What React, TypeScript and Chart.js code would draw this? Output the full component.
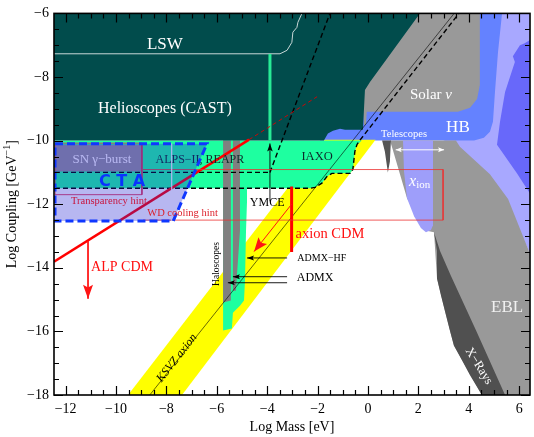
import React, { useEffect, useRef } from "react";
import { Chart, registerables } from "chart.js";

Chart.register(...registerables);

type P = [number, number];

// ---------- axes ----------
const xMin = -12.46;
const xMax = 6.43;
const yMin = -18;
const yMax = -6;
const labelStep = 2;

// ---------- filled regions (log mass [eV], log coupling [GeV^-1]) ----------
const lavenderRegion: P[] = [[4.05, -6], [6.43, -6], [6.43, -13.56], [5.63, -12.13], [4.7, -11.1], [3.3, -10.05], [3.0, -10.0], [4.05, -7.53]];
const mediumPurpleRegion: P[] = [[6.03, -7.0], [6.2, -6.95], [6.43, -6.84], [6.43, -11.66], [5.91, -11.03], [5.12, -10.13], [5.24, -9.41], [5.44, -8.47], [5.83, -7.53], [5.75, -7.35]];
const hbRegion: P[] = [[-1.9, -10.0], [4.21, -10.0], [4.6, -9.91], [4.84, -9.72], [4.96, -9.41], [5.04, -8.47], [5.16, -7.22], [5.32, -6], [-1.9, -6]];
const solarRegion: P[] = [[-0.32, -6], [4.44, -6], [4.44, -8.25], [4.33, -8.69], [4.05, -8.97], [3.57, -9.09], [-0.32, -9.09]];
const solarSpike: P[] = [[-0.2, -9.0], [-0.04, -9.0], [-0.08, -9.5], [-0.16, -9.5]];
const ksvzBand: P[] = [[-9.52, -18], [-7.38, -18], [0.3, -9.97], [-1.71, -9.97]];
const alpsIaxoRegion: P[] = [[-12.46, -10.0], [-0.24, -10.0], [-0.44, -10.13], [-0.52, -10.34], [-0.6, -10.91], [-0.71, -11.03], [-1.43, -11.03], [-1.63, -11.13], [-1.83, -11.34], [-2.1, -11.47], [-2.3, -11.5], [-12.46, -11.5]];
const haloGreen: P[] = [[-5.75, -10.0], [-4.8, -10.0], [-4.8, -11.91], [-4.84, -12.84], [-4.88, -14.41], [-4.92, -15.03], [-5.08, -15.19], [-5.36, -15.41], [-5.4, -15.91], [-5.75, -15.97]];
const haloGrey1: P[] = [[-5.75, -10.0], [-5.44, -10.0], [-5.44, -15.03], [-5.75, -15.09]];
const haloGrey2: P[] = [[-5.36, -10.0], [-5.08, -10.0], [-5.08, -12.84], [-5.16, -13.78], [-5.24, -14.72], [-5.36, -14.72]];
const castRegion: P[] = [[-12.46, -6], [2.06, -6], [0.08, -8.16], [-0.12, -8.41], [-0.2, -9.66], [-0.91, -9.66], [-1.11, -9.63], [-1.39, -9.69], [-1.59, -9.78], [-1.75, -10.0], [-12.46, -10.0]];
const eblRegion: P[] = [[0.87, -10.0], [3.49, -10.0], [3.65, -10.19], [4.84, -11.06], [5.56, -11.84], [6.43, -13.56], [6.43, -18], [4.52, -18], [3.41, -16.44], [3.1, -15.5], [2.74, -14.34], [2.62, -12.88], [2.38, -12.84], [2.06, -12.53], [1.55, -11.81], [0.95, -10.19]];
const xionRegion: P[] = [[1.39, -10.0], [2.58, -10.0], [2.58, -12.66], [2.5, -12.81], [2.3, -12.88], [2.1, -12.75], [1.83, -12.38], [1.55, -11.81], [1.43, -10.97]];
const telescopeSpike: P[] = [[0.56, -10.0], [0.91, -10.0], [0.87, -10.66], [0.79, -11.0], [0.67, -10.34]];
const xrayRegion: P[] = [[2.62, -12.88], [2.74, -13.47], [2.74, -14.34], [2.9, -14.88], [3.1, -15.5], [3.25, -15.97], [3.41, -16.44], [3.73, -16.91], [4.05, -17.38], [4.52, -18], [5.44, -18], [4.29, -15.97], [3.29, -14.25], [2.86, -13.47]];
const snBox: P[] = [[-12.42, -10.13], [-8.97, -10.13], [-8.97, -10.97], [-12.42, -10.97]];
const ctaRegion: P[] = [[-12.42, -10.1], [-6.39, -10.1], [-7.73, -12.53], [-12.42, -12.53]];

// ---------- lines ----------
const lswLine: P[] = [[-12.46, -7.27], [-3.49, -7.27], [-3.21, -7.16], [-3.02, -6.91], [-2.98, -6.59], [-2.82, -6.44], [-2.78, -6.28], [-2.62, -6.0]];
const alpsIILswLine: P[] = [[-3.89, -7.28], [-3.89, -10.0]];
const ksvzLine: P[] = [[-8.66, -18], [3.42, -6]];
const alpsDiagDashed: P[] = [[-3.89, -11.0], [-1.51, -6]];
const alpsDashed: P[] = [[-12.42, -11.0], [-3.89, -11.0]];
const iaxoDashed: P[] = [[-12.42, -11.5], [-2.3, -11.5], [-2.1, -11.47], [-1.83, -11.34], [-1.63, -11.13], [-1.43, -11.03], [-0.71, -11.03], [-0.6, -10.91], [-0.52, -10.34], [-0.44, -10.13], [-0.36, -10.03], [3.61, -6]];
const ymceArrow: P[] = [[-3.89, -11.91], [-3.89, -10.09]];
const admxHfArrow: P[] = [[-3.21, -13.69], [-4.8, -13.69]];
const admxArrow1: P[] = [[-3.21, -14.28], [-5.36, -14.28]];
const admxArrow2: P[] = [[-3.21, -14.47], [-5.56, -14.47]];
const alpCdmLine: P[] = [[-12.46, -13.81], [-4.72, -9.97]];
const alpCdmDashed: P[] = [[-4.72, -9.97], [-2.02, -8.62]];
const alpCdmArrow: P[] = [[-11.11, -13.16], [-11.11, -14.97]];
const axionCdmBar: P[] = [[-3.03, -11.44], [-3.03, -13.5]];
const axionCdmArrow: P[] = [[-3.03, -12.0], [-4.52, -13.49]];
const transparencyBox: P[] = [[-12.42, -10.08], [-8.97, -10.08], [-8.97, -11.7], [-12.42, -11.7], [-12.42, -10.08]];
const wdBox: P[] = [[-8.93, -10.91], [2.98, -10.91], [2.98, -12.5], [-8.93, -12.5]];
const ctaInnerLine: P[] = [[-7.79, -10.1], [-7.79, -12.53]];
const ctaBorder: P[] = [...ctaRegion, ctaRegion[0]];
const telescopesArrow: P[] = [[1.1, -10.29], [3.02, -10.29]];

// ---------- labels ----------
const labelText: Record<string, string[]> = {
  lsw: ["LSW"],
  cast: ["Helioscopes (CAST)"],
  sn: ["SN γ−burst"],
  alps: ["ALPS−II, REAPR"],
  transp: ["Transparency hint"],
  wd: ["WD cooling hint"],
  cta: ["C T A"],
  iaxo: ["IAXO"],
  ymce: ["YMCE"],
  tele: ["Telescopes"],
  solar: ["Solar ", "ν"],
  hb: ["HB"],
  xion: ["x", "ion"],
  ebl: ["EBL"],
  xrays: ["X−Rays"],
  ksvz: ["KSVZ axion"],
  halo: ["Haloscopes"],
  admxhf: ["ADMX−HF"],
  admx: ["ADMX"],
  axcdm: ["axion CDM"],
  alpcdm: ["ALP CDM"],
};
const labelAt: Record<string, P> = {
  lsw: [-8.06, -6.98],
  cast: [-8.06, -9.0],
  sn: [-10.56, -10.59],
  alps: [-6.67, -10.59],
  transp: [-10.28, -11.91],
  wd: [-7.36, -12.27],
  cta: [-9.76, -11.3],
  iaxo: [-2.02, -10.5],
  ymce: [-4.0, -11.97],
  tele: [1.43, -9.8],
  solar: [2.5, -8.56],
  hb: [3.57, -9.59],
  xion: [1.63, -11.28],
  ebl: [5.52, -15.25],
  xrays: [4.4, -17.09],
  ksvz: [-7.58, -16.84],
  halo: [-6.03, -13.88],
  admxhf: [-1.83, -13.69],
  admx: [-2.1, -14.31],
  axcdm: [-1.51, -12.94],
  alpcdm: [-9.76, -13.97],
};
const underOverlay = ["sn", "alps"];

const SERIF = '"Liberation Serif", "Times New Roman", serif';
const f = (size: number, style = "") => `${style} ${size}px ${SERIF}`.trim();
type Style = { fonts: string[]; color: string; rot?: number; align?: CanvasTextAlign; dys?: number[] };
const labelStyle: Record<string, Style> = {
  lsw: { fonts: [f(17)], color: "#ffffff" },
  cast: { fonts: [f(16)], color: "#ffffff" },
  sn: { fonts: [f(13)], color: "#ffffff" },
  alps: { fonts: [f(12)], color: "#0d2a2a" },
  transp: { fonts: [f(10.5)], color: "#c8143c" },
  wd: { fonts: [f(10.5)], color: "#dc1e28" },
  cta: { fonts: ['bold 16px "DejaVu Sans", sans-serif'], color: "#0a32ff" },
  iaxo: { fonts: [f(12.5)], color: "#0d2a2a" },
  ymce: { fonts: [f(12)], color: "#000000" },
  tele: { fonts: [f(10.5)], color: "#ffffff" },
  solar: { fonts: [f(15), f(15, "italic")], color: "#ffffff" },
  hb: { fonts: [f(17)], color: "#ffffff" },
  xion: { fonts: [f(16, "italic"), f(11)], color: "#ffffff", align: "left", dys: [0, 4] },
  ebl: { fonts: [f(17)], color: "#f0f0f0" },
  xrays: { fonts: [f(12.5)], color: "#ffffff", rot: 58 },
  ksvz: { fonts: [f(12, "italic")], color: "#000000", rot: -51.8 },
  halo: { fonts: [f(9.5)], color: "#000000", rot: -90 },
  admxhf: { fonts: [f(10)], color: "#000000" },
  admx: { fonts: [f(12)], color: "#000000" },
  axcdm: { fonts: [f(14.5)], color: "#ff1010" },
  alpcdm: { fonts: [f(14)], color: "#ff1010" },
};

// ---------- dataset helpers ----------
const toXY = (pts: P[]) => pts.map(([x, y]) => ({ x, y }));
const area = (label: string, pts: P[], color: string, extra: any = {}) => ({
  label, data: toXY(pts), showLine: false, pointRadius: 0, pointHoverRadius: 0, polyFill: color, ...extra,
});
const line = (label: string, pts: P[], color: string, width: number, dash: number[] = [], extra: any = {}) => ({
  label, data: toXY(pts), showLine: true, borderColor: color, borderWidth: width, borderDash: dash,
  pointRadius: 0, pointHoverRadius: 0, fill: false, tension: 0, ...extra,
});

function drawRich(ctx: CanvasRenderingContext2D, segs: string[], st: Style, px: number, py: number) {
  ctx.save();
  ctx.translate(px, py);
  if (st.rot) ctx.rotate((st.rot * Math.PI) / 180);
  ctx.fillStyle = st.color;
  ctx.textBaseline = "middle";
  ctx.textAlign = "left";
  let total = 0;
  segs.forEach((s, i) => { ctx.font = st.fonts[i] || st.fonts[0]; total += ctx.measureText(s).width; });
  const align = st.align || "center";
  let x0 = align === "left" ? 0 : align === "right" ? -total : -total / 2;
  segs.forEach((s, i) => {
    ctx.font = st.fonts[i] || st.fonts[0];
    ctx.fillText(s, x0, (st.dys && st.dys[i]) || 0);
    x0 += ctx.measureText(s).width;
  });
  ctx.restore();
}

function drawLabel(chart: any, key: string) {
  const [dx, dy] = labelAt[key];
  drawRich(chart.ctx, labelText[key], labelStyle[key], chart.scales.x.getPixelForValue(dx), chart.scales.y.getPixelForValue(dy));
}

function arrowHead(ctx: CanvasRenderingContext2D, from: any, to: any, len: number, half: number, color: string) {
  const ang = Math.atan2(to.y - from.y, to.x - from.x);
  ctx.save();
  ctx.translate(to.x, to.y);
  ctx.rotate(ang);
  ctx.fillStyle = color;
  ctx.beginPath();
  ctx.moveTo(0, 0);
  ctx.lineTo(-len, -half);
  ctx.lineTo(-len * 0.8, 0);
  ctx.lineTo(-len, half);
  ctx.closePath();
  ctx.fill();
  ctx.restore();
}

const shapesPlugin = {
  id: "shapes",
  beforeDatasetDraw(chart: any, args: any) {
    const ds = chart.data.datasets[args.index];
    const ctx = chart.ctx as CanvasRenderingContext2D;
    const a = chart.chartArea;
    if (ds.labelsBefore) ds.labelsBefore.forEach((k: string) => drawLabel(chart, k));
    if (ds.polyFill) {
      const pts = args.meta.data;
      ctx.save();
      ctx.beginPath();
      ctx.rect(a.left, a.top, a.right - a.left, a.bottom - a.top);
      ctx.clip();
      ctx.beginPath();
      pts.forEach((p: any, i: number) => (i ? ctx.lineTo(p.x, p.y) : ctx.moveTo(p.x, p.y)));
      ctx.closePath();
      ctx.fillStyle = ds.polyFill;
      ctx.fill();
      ctx.restore();
    }
  },
  afterDatasetDraw(chart: any, args: any) {
    const ds = chart.data.datasets[args.index];
    const pts = args.meta.data;
    const ctx = chart.ctx;
    if (ds.arrowEnd) arrowHead(ctx, pts[pts.length - 2], pts[pts.length - 1], ds.arrowEnd[0], ds.arrowEnd[1], ds.borderColor);
    if (ds.arrowStart) arrowHead(ctx, pts[1], pts[0], ds.arrowStart[0], ds.arrowStart[1], ds.borderColor);
  },
  afterDatasetsDraw(chart: any) {
    const ctx = chart.ctx as CanvasRenderingContext2D;
    const a = chart.chartArea;
    const sx = chart.scales.x;
    const sy = chart.scales.y;
    Object.keys(labelText).filter((k) => !underOverlay.includes(k)).forEach((k) => drawLabel(chart, k));

    ctx.save();
    ctx.strokeStyle = "#000";
    ctx.lineWidth = 1.2;
    ctx.beginPath();
    for (let k = Math.ceil(xMin * 2); k <= Math.floor(xMax * 2); k++) {
      const px = Math.round(sx.getPixelForValue(k / 2)) + 0.5;
      const len = k % 4 === 0 ? 9 : 5;
      ctx.moveTo(px, a.bottom); ctx.lineTo(px, a.bottom - len);
      ctx.moveTo(px, a.top); ctx.lineTo(px, a.top + len);
    }
    for (let k = Math.ceil(yMin * 2); k <= Math.floor(yMax * 2); k++) {
      const py = Math.round(sy.getPixelForValue(k / 2)) + 0.5;
      const len = k % 4 === 0 ? 9 : 5;
      ctx.moveTo(a.left, py); ctx.lineTo(a.left + len, py);
      ctx.moveTo(a.right, py); ctx.lineTo(a.right - len, py);
    }
    ctx.stroke();
    ctx.lineWidth = 1.6;
    ctx.strokeRect(a.left, a.top, a.right - a.left, a.bottom - a.top);
    ctx.restore();

    // axis titles
    drawRich(ctx, ["Log Mass [eV]"], { fonts: [f(14)], color: "#000" }, (a.left + a.right) / 2, 427);
    drawRich(ctx, ["Log Coupling [GeV", "−1", "]"], { fonts: [f(14), f(10), f(14)], color: "#000", rot: -90, dys: [0, -5, 0] }, 12, (a.top + a.bottom) / 2);
  },
};

const GREEN = "rgb(30,255,160)";
const GREY = "rgb(153,153,153)";

function buildDatasets() {
  const list: any[] = [
    area("lavender", lavenderRegion, "rgb(168,168,255)"),
    area("mediumPurple", mediumPurpleRegion, "rgb(104,104,250)"),
    area("HB", hbRegion, "rgb(100,130,255)"),
    area("Solar nu", solarRegion, GREY),
    area("Solar spike", solarSpike, GREY),
    area("KSVZ band", ksvzBand, "rgb(255,255,0)"),
    area("ALPS/IAXO", alpsIaxoRegion, GREEN),
    area("Haloscopes future", haloGreen, GREEN),
    area("Haloscopes 1", haloGrey1, "rgb(128,128,128)"),
    area("Haloscopes 2", haloGrey2, "rgb(128,128,128)"),
    area("CAST", castRegion, "rgb(1,76,76)"),
    area("EBL", eblRegion, GREY),
    area("x_ion", xionRegion, "rgb(158,158,250)"),
    area("Telescopes", telescopeSpike, "rgb(85,85,85)"),
    area("X-rays", xrayRegion, "rgb(80,80,80)"),
    area("SN", snBox, "rgb(150,150,155)"),
    line("LSW", lswLine, "rgb(200,215,215)", 1),
    line("ALPS-II LSW", alpsIILswLine, "rgb(40,235,150)", 3),
    line("KSVZ", ksvzLine, "rgba(0,0,0,0.85)", 0.7),
    line("ALPS diag", alpsDiagDashed, "#000", 1.4, [5, 3]),
    line("ALPS dashed", alpsDashed, "#000", 1.4, [5, 3]),
    line("IAXO dashed", iaxoDashed, "#000", 1.4, [5, 3]),
    line("YMCE", ymceArrow, "#000", 0.9, [], { arrowEnd: [8, 2.8] }),
    line("ADMX-HF", admxHfArrow, "#000", 0.9, [], { arrowEnd: [7, 2.5] }),
    line("ADMX1", admxArrow1, "#000", 0.9, [], { arrowEnd: [7, 2.5] }),
    line("ADMX2", admxArrow2, "#000", 0.9, [], { arrowEnd: [7, 2.5] }),
    line("ALP CDM", alpCdmLine, "rgb(255,0,0)", 2.6),
    line("ALP CDM ext", alpCdmDashed, "rgb(220,0,0)", 0.9, [4, 3]),
    line("ALP CDM arrow", alpCdmArrow, "rgb(255,20,20)", 1, [], { arrowEnd: [14, 5] }),
    line("axion CDM", axionCdmBar, "rgb(255,0,0)", 3),
    line("axion CDM arrow", axionCdmArrow, "rgb(255,20,20)", 1, [], { arrowEnd: [14, 5.5] }),
    line("Transparency", transparencyBox, "rgba(225,40,80,0.85)", 1),
    line("WD", wdBox, "rgba(235,50,50,0.8)", 1),
    line("CTA inner", ctaInnerLine, "rgba(255,255,255,0.6)", 1),
    area("CTA", ctaRegion, "rgba(30,30,210,0.32)", { labelsBefore: underOverlay }),
    line("CTA border", ctaBorder, "rgb(15,55,255)", 3, [8, 4]),
    line("Telescope range", telescopesArrow, "#ffffff", 1, [], { arrowEnd: [6, 2.5], arrowStart: [6, 2.5] }),
  ];
  const n = list.length;
  return list.map((d, i) => ({ ...d, order: n - i }));
}

const fmt = (v: any) => {
  const n = Number(v);
  return n < 0 ? "\u2212" + Math.abs(n) : String(n);
};

export default function App() {
  const ref = useRef<HTMLCanvasElement>(null);
  useEffect(() => {
    const chart = new Chart(ref.current as HTMLCanvasElement, {
      type: "scatter",
      data: { datasets: buildDatasets() as any },
      options: {
        responsive: false,
        animation: false,
        devicePixelRatio: 1,
        events: [],
        layout: { padding: { top: 11, right: 4, left: 0, bottom: 0 } },
        plugins: { legend: { display: false }, tooltip: { enabled: false } },
        scales: {
          x: {
            type: "linear",
            min: xMin,
            max: xMax,
            grid: { display: false, drawTicks: false },
            border: { display: false },
            ticks: {
              stepSize: labelStep, includeBounds: false, autoSkip: false, maxRotation: 0, padding: 6,
              color: "#000", font: { family: SERIF, size: 14 }, callback: fmt,
            },
            afterFit: (s: any) => { s.height = 42; },
          },
          y: {
            type: "linear",
            min: yMin,
            max: yMax,
            grid: { display: false, drawTicks: false },
            border: { display: false },
            ticks: {
              stepSize: labelStep, includeBounds: false, autoSkip: false, padding: 5,
              color: "#000", font: { family: SERIF, size: 14 }, callback: fmt,
            },
            afterFit: (s: any) => { s.width = 54; },
          },
        },
      } as any,
      plugins: [shapesPlugin as any],
    });
    return () => chart.destroy();
  }, []);
  return (
    <div style={{ position: "absolute", left: 0, top: 0, width: 534, height: 437, background: "#fff" }}>
      <canvas ref={ref} width={534} height={437} style={{ display: "block" }} />
    </div>
  );
}
